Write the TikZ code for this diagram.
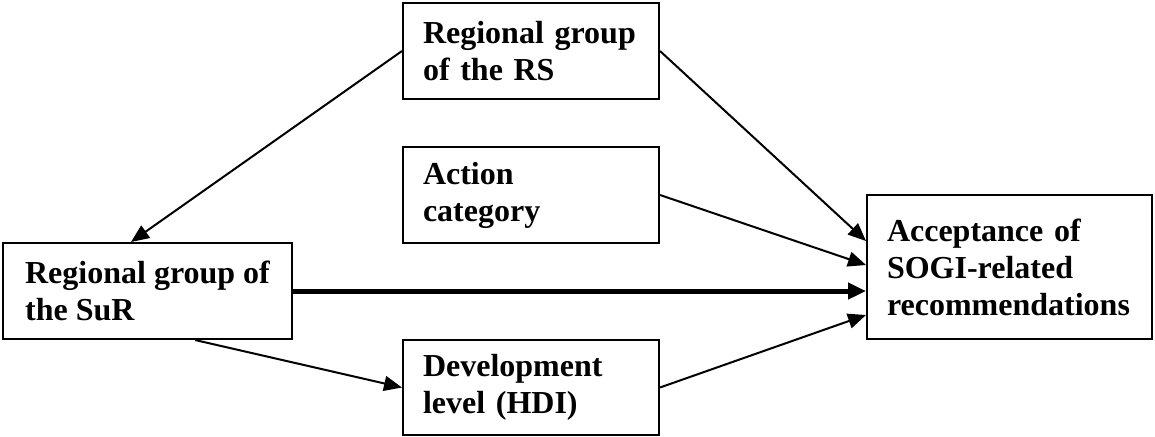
\documentclass[tikz,border=0pt]{standalone}
\usepackage{fontspec}
\setmainfont{Liberation Serif}
\usetikzlibrary{arrows.meta,calc}
\begin{document}
\begin{tikzpicture}[x=1pt,y=-1pt,
  box/.style={draw,line width=2pt,inner sep=0pt,align=left,
    font=\fontsize{32}{37}\selectfont\bfseries},
  conn/.style={line width=2pt,-{Triangle[length=18pt,width=15pt]}},
  thickconn/.style={line width=5pt,-{Triangle[length=18pt,width=16pt]}}]
\useasboundingbox (0,0) rectangle (1155,436);
\node[box,minimum width=256pt,minimum height=96pt,text width=216pt] (rs) at (531,51) {Regional group\\of the RS};
\node[box,minimum width=256pt,minimum height=96pt,text width=216pt] (act) at (531,195) {Action\\category};
\node[box,minimum width=256pt,minimum height=95pt,text width=216pt] (dev) at (531,387.5) {Development\\level (HDI)};
\node[box,minimum width=289pt,minimum height=96pt] (sur) at (147.5,291) {Regional group of\\the SuR};
\node[box,minimum width=285pt,minimum height=144pt,text width=245pt] (acc) at (1009.5,267) {Acceptance of\\SOGI-related\\recommendations};
\draw[conn] (rs.west) -- ($(sur.north west)+(129,0)$);
\draw[conn] (rs.east) -- ($(acc.west)+(0,-26)$);
\draw[conn] (act.east) -- ($(acc.west)+(0,-2)$);
\draw[thickconn] (sur.east) -- (sur.east -| acc.west);
\draw[conn] (dev.east) -- ($(acc.west)+(0,48)$);
\draw[conn] ($(sur.south)+(47.5,0)$) -- (dev.west);
\end{tikzpicture}
\end{document}
